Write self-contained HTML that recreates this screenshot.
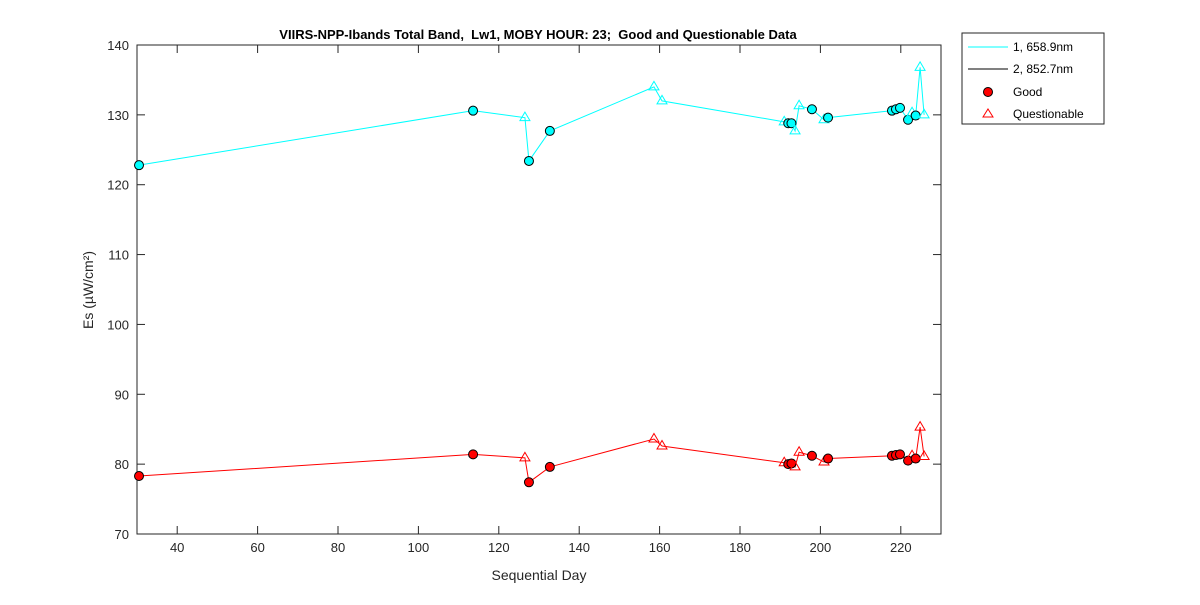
<!DOCTYPE html>
<html><head><meta charset="utf-8"><style>
body{margin:0;background:#fff;font-family:"Liberation Sans",sans-serif;}
</style></head><body>
<svg width="1200" height="600" xmlns="http://www.w3.org/2000/svg" font-family="Liberation Sans, sans-serif">
<rect width="1200" height="600" fill="#fff"/>
<text x="538" y="39" text-anchor="middle" font-size="13" font-weight="bold" style="white-space:pre">VIIRS-NPP-Ibands Total Band,  Lw1, MOBY HOUR: 23;  Good and Questionable Data</text>
<rect x="137" y="45" width="804" height="489" fill="#fff" stroke="#262626"/>
<g id="ticks"></g>
<g id="marks"></g>
<text x="539" y="580" text-anchor="middle" font-size="14" fill="#262626">Sequential Day</text>
<text transform="translate(93,290) rotate(-90)" text-anchor="middle" font-size="14" fill="#262626">Es (µW/cm²)</text>
<g>
<rect x="962" y="33" width="142" height="91" fill="#fff" stroke="#262626"/>
<line x1="968" y1="47" x2="1008" y2="47" stroke="#00ffff"/>
<text x="1013" y="51" font-size="12">1, 658.9nm</text>
<line x1="968" y1="69" x2="1008" y2="69" stroke="#000"/>
<text x="1013" y="73" font-size="12">2, 852.7nm</text>
<circle cx="988" cy="92" r="4.5" fill="#f00" stroke="#000"/>
<text x="1013" y="96" font-size="12">Good</text>
<polygon points="988,109 993,117 983,117" fill="none" stroke="#f00"/>
<text x="1013" y="118" font-size="12">Questionable</text>
</g>
</svg>
<script>
const days=[30.5,113.6,126.5,127.5,132.7,158.6,160.6,191,192,192.8,193.7,194.7,197.9,200.9,201.9,217.8,218.8,219.8,221.8,222.8,223.7,224.8,225.8];
const band1=[122.8,130.6,129.6,123.4,127.7,134.0,132.0,129.0,128.8,128.8,127.7,131.3,130.8,129.3,129.6,130.6,130.8,131.0,129.3,130.3,129.9,136.8,130.0];
const band2=[78.3,81.4,80.9,77.4,79.6,83.6,82.6,80.2,80.0,80.1,79.6,81.7,81.2,80.3,80.8,81.2,81.3,81.4,80.5,81.2,80.8,85.3,81.1];
const quality=["G","G","Q","G","G","Q","Q","Q","G","G","Q","Q","G","Q","G","G","G","G","G","Q","G","Q","Q"];
const xTicks=[40,60,80,100,120,140,160,180,200,220];
const yTicks=[70,80,90,100,110,120,130,140];
const NS="http://www.w3.org/2000/svg";
const X=d=>137+(d-30)*804/200, Y=v=>534-(v-70)*489/70;
const tg=document.getElementById('ticks'), mg=document.getElementById('marks');
function mk(t,a,p){const e=document.createElementNS(NS,t);for(const k in a)e.setAttribute(k,a[k]);p.appendChild(e);return e;}
xTicks.forEach(t=>{mk('line',{x1:X(t),x2:X(t),y1:534,y2:526,stroke:'#262626'},tg);mk('line',{x1:X(t),x2:X(t),y1:45,y2:53,stroke:'#262626'},tg);
 const e=mk('text',{x:X(t),y:552,'text-anchor':'middle','font-size':13,fill:'#262626'},tg);e.textContent=t;
 
 });
yTicks.forEach(t=>{mk('line',{x1:137,x2:145,y1:Y(t),y2:Y(t),stroke:'#262626'},tg);mk('line',{x1:941,x2:933,y1:Y(t),y2:Y(t),stroke:'#262626'},tg);
 const e=mk('text',{x:129,y:Y(t)+5,'text-anchor':'end','font-size':13,fill:'#262626'},tg);e.textContent=t;
 
 });
[[band1,'#00ffff','band1'],[band2,'#ff0000','band2']].forEach(([s,c,n])=>{
 const l=mk('polyline',{points:s.map((v,i)=>X(days[i])+','+Y(v)).join(' '),fill:'none',stroke:c,'stroke-width':1},mg);
 
 
 s.forEach((v,i)=>{const x=X(days[i]),y=Y(v);let e;
  if(quality[i]==='G'){e=mk('circle',{cx:x,cy:y,r:4.5,fill:c,stroke:'#000'},mg);}
  else{e=mk('polygon',{points:`${x},${y-5.5} ${x+5},${y+3} ${x-5},${y+3}`,fill:'none',stroke:c},mg);}
  
  });
});
</script>
</body></html>
